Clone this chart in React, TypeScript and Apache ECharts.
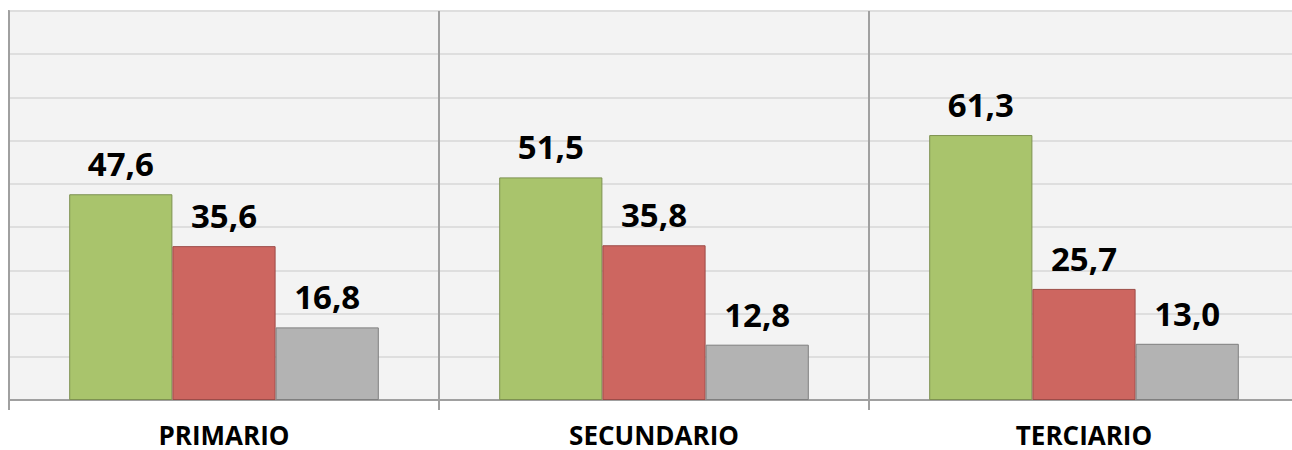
import React, { useEffect, useRef } from "react";
import * as echarts from "echarts";

const categories = ["PRIMARIO", "SECUNDARIO", "TERCIARIO"];
const serieA = [47.6, 51.5, 61.3];
const serieB = [35.6, 35.8, 25.7];
const serieC = [16.8, 12.8, 13.0];
const seriesNames = ["Serie 1", "Serie 2", "Serie 3"];
const colors = ["#a9c46c", "#cd6660", "#b3b3b3"];
const borderColors = ["#7d9150", "#9c4c48", "#7f7f7f"];

export default function App() {
  const ref = useRef<HTMLDivElement>(null);
  useEffect(() => {
    if (!ref.current) return;
    const chart = echarts.init(ref.current, undefined, { renderer: "svg" });
    const data = [serieA, serieB, serieC];
    chart.setOption({
      animation: false,
      grid: {
        left: 9,
        top: 11,
        width: 1290,
        height: 389,
        outerBoundsMode: "none",
        containLabel: false,
        show: true,
        backgroundColor: "#f3f3f3",
        borderColor: "#a0a0a0",
        borderWidth: 2,
      },
      xAxis: {
        type: "category",
        data: categories,
        boundaryGap: true,
        axisLine: { show: true, lineStyle: { color: "#a0a0a0", width: 2 } },
        axisTick: { show: true, interval: 0, length: 10, lineStyle: { color: "#a0a0a0", width: 2 } },
        splitLine: { show: true, interval: 0, lineStyle: { color: "#a0a0a0", width: 2 } },
        axisLabel: {
          interval: 0,
          margin: 23,
          lineHeight: 24,
          fontFamily: "Open Sans",
          fontWeight: "bold",
          fontSize: 26,
          color: "#000",
        },
      },
      yAxis: {
        type: "value",
        min: 0,
        max: 90,
        interval: 10,
        axisLabel: { show: false },
        axisTick: { show: false },
        axisLine: { show: true, lineStyle: { color: "#a0a0a0", width: 2 } },
        splitLine: { show: true, lineStyle: { color: "#dedede", width: 2 } },
      },
      series: data.map((d, i) => ({
        type: "bar",
        name: seriesNames[i],
        data: d,
        barGap: "0%",
        barCategoryGap: "28%",
        itemStyle: { color: colors[i], borderColor: borderColors[i], borderWidth: 1 },
        label: {
          show: true,
          position: "top",
          distance: 14,
          fontFamily: "Open Sans",
          fontWeight: "bold",
          fontSize: 33,
          color: "#000",
          formatter: (p: any) => Number(p.value).toFixed(1).replace(".", ","),
        },
      })),
    });
    return () => chart.dispose();
  }, []);
  return (
    <div
      ref={ref}
      style={{ position: "absolute", left: 0, top: 0, width: 1292, height: 450, background: "#fff" }}
    />
  );
}
